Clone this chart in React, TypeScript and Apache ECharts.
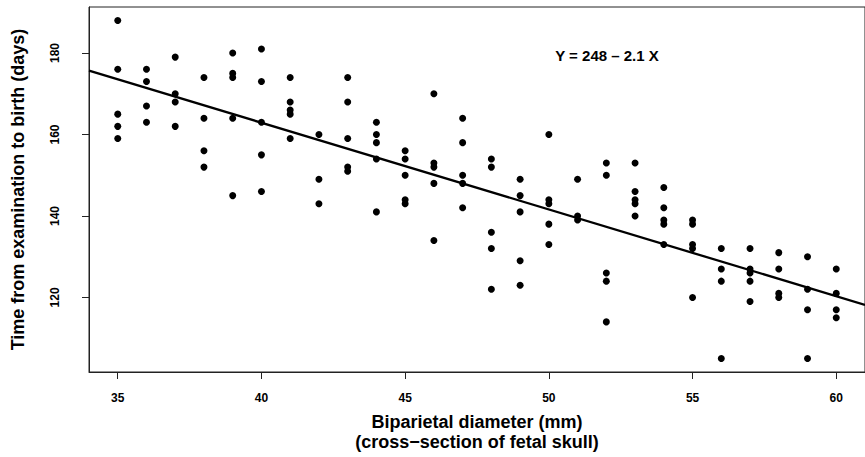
import React, { useEffect, useRef } from "react";
import * as echarts from "echarts";

// Biparietal diameter (mm) of each fetus, and the days from examination to birth
const diameterMm = [
  35, 35, 35, 35, 35,
  36, 36, 36, 36,
  37, 37, 37, 37,
  38, 38, 38, 38,
  39, 39, 39, 39, 39,
  40, 40, 40, 40, 40,
  41, 41, 41, 41, 41,
  42, 42, 42,
  43, 43, 43, 43, 43,
  44, 44, 44, 44, 44,
  45, 45, 45, 45, 45,
  46, 46, 46, 46, 46,
  47, 47, 47, 47, 47,
  48, 48, 48, 48, 48,
  49, 49, 49, 49, 49,
  50, 50, 50, 50, 50,
  51, 51, 51,
  52, 52, 52, 52, 52,
  53, 53, 53, 53, 53,
  54, 54, 54, 54, 54,
  55, 55, 55, 55, 55,
  56, 56, 56, 56,
  57, 57, 57, 57, 57,
  58, 58, 58, 58,
  59, 59, 59, 59,
  60, 60, 60, 60,
];
const daysToBirth = [
  188, 176, 165, 162, 159,
  176, 173, 167, 163,
  179, 170, 168, 162,
  174, 164, 156, 152,
  180, 175, 174, 164, 145,
  181, 173, 163, 155, 146,
  174, 168, 166, 165, 159,
  160, 149, 143,
  174, 168, 159, 152, 151,
  163, 160, 158, 154, 141,
  156, 154, 150, 144, 143,
  170, 153, 152, 148, 134,
  164, 158, 150, 148, 142,
  154, 152, 136, 132, 122,
  149, 145, 141, 129, 123,
  160, 144, 143, 138, 133,
  149, 140, 139,
  153, 150, 126, 124, 114,
  153, 146, 144, 143, 140,
  147, 142, 139, 138, 133,
  139, 138, 133, 132, 120,
  132, 127, 124, 105,
  132, 127, 126, 124, 119,
  131, 127, 121, 120,
  130, 122, 117, 105,
  127, 121, 117, 115,
];

const xTicks = [35, 40, 45, 50, 55, 60];
const yTicks = [120, 140, 160, 180];
const xRange = [34, 61];
const yRange = [101.7, 191.3];

// fitted regression line
const fitIntercept = 248.1;
const fitSlope = -2.13;
const equationLabel = "Y = 248 – 2.1 X";

const xTitle = "Biparietal diameter (mm)\n(cross−section of fetal skull)";
const yTitle = "Time from examination to birth (days)";

const FONT = "'Liberation Sans', Arial, Helvetica, sans-serif";

export default function App() {
  const ref = useRef<HTMLDivElement>(null);

  useEffect(() => {
    document.body.style.margin = "0";
    if (!ref.current) return;
    const chart = echarts.init(ref.current, undefined, { renderer: "svg" });

    const points = diameterMm.map((x, i) => [x, daysToBirth[i]]);
    const fitLine = xRange.map((x) => [x, fitIntercept + fitSlope * x]);

    const axisColor = "#222";

    chart.setOption({
      animation: false,
      backgroundColor: "#fff",
      grid: {
        left: 89,
        top: 7,
        width: 778,
        height: 371,
        show: true,
        borderColor: axisColor,
        borderWidth: 1,
        backgroundColor: "transparent",
      },
      xAxis: {
        type: "value",
        min: xRange[0],
        max: xRange[1],
        axisLine: { show: true, onZero: false, lineStyle: { color: axisColor, width: 1 } },
        axisTick: { show: true, length: 7, customValues: xTicks, lineStyle: { color: axisColor } },
        axisLabel: {
          customValues: xTicks,
          margin: 20,
          fontFamily: FONT,
          fontWeight: "bold",
          fontSize: 12,
          color: "#000",
        },
        splitLine: { show: false },
        name: xTitle,
        nameLocation: "middle",
        nameGap: 40,
        nameTextStyle: {
          fontFamily: FONT,
          fontWeight: "bold",
          fontSize: 18,
          lineHeight: 20,
          color: "#000",
        },
      },
      yAxis: {
        type: "value",
        min: yRange[0],
        max: yRange[1],
        axisLine: { show: true, onZero: false, lineStyle: { color: axisColor, width: 1 } },
        axisTick: { show: true, length: 7, customValues: yTicks, lineStyle: { color: axisColor } },
        axisLabel: {
          customValues: yTicks,
          rotate: 90,
          margin: 28,
          fontFamily: FONT,
          fontWeight: "bold",
          fontSize: 12,
          color: "#000",
        },
        splitLine: { show: false },
        name: yTitle,
        nameLocation: "middle",
        nameGap: 62,
        nameTextStyle: {
          fontFamily: FONT,
          fontWeight: "bold",
          fontSize: 18,
          color: "#000",
        },
      },
      series: [
        {
          type: "scatter",
          data: points,
          symbol: "circle",
          symbolSize: 7,
          itemStyle: { color: "#000", opacity: 1 },
          z: 2,
        },
        {
          type: "line",
          data: fitLine,
          symbol: "none",
          lineStyle: { color: "#000", width: 2.3, opacity: 1 },
          z: 3,
        },
      ],
      graphic: [
        {
          type: "text",
          x: 607,
          y: 55,
          style: {
            text: equationLabel,
            align: "center",
            verticalAlign: "middle",
            fontFamily: FONT,
            fontWeight: "bold",
            fontSize: 15,
            fill: "#000",
          },
        },
      ],
    });

    return () => chart.dispose();
  }, []);

  return (
    <div
      ref={ref}
      style={{ position: "absolute", left: 0, top: 0, width: 865, height: 457 }}
    />
  );
}
